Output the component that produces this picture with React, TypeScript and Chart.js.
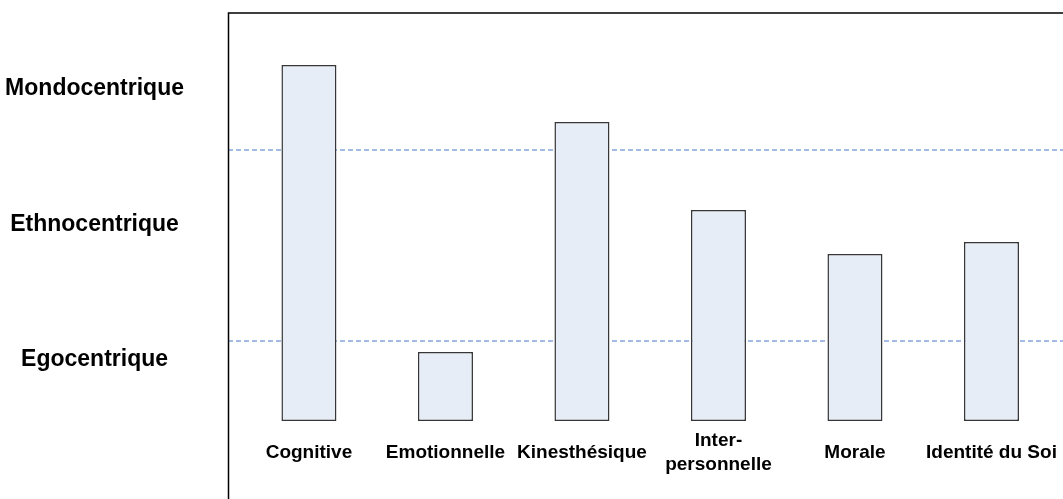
import React, { useEffect, useRef } from "react";
import { Chart, registerables } from "chart.js";

Chart.register(...registerables);

const categories: (string | string[])[] = [
  "Cognitive",
  "Emotionnelle",
  "Kinesthésique",
  ["Inter-", "personnelle"],
  "Morale",
  "Identité du Soi",
];
const scores: number[] = [35.6, 6.9, 29.9, 21.1, 16.7, 17.9];
const levelLabels: string[] = ["Mondocentrique", "Ethnocentrique", "Egocentrique"];
const levelPositions: number[] = [33.2, 19.6, 6.1];
const thresholds: number[] = [27.1, 8.0];
const yMax = 40.8;
const xMin = -0.593;
const xMax = 5.524;

const framePlugin = {
  id: "frame",
  beforeDatasetsDraw(chart: any) {
    const { ctx, chartArea, scales } = chart;
    ctx.save();
    ctx.strokeStyle = "#a3bbe5";
    ctx.lineWidth = 2;
    ctx.setLineDash([5, 3]);
    thresholds.forEach((t) => {
      const y = Math.round(scales.y.getPixelForValue(t));
      ctx.beginPath();
      ctx.moveTo(chartArea.left, y);
      ctx.lineTo(chartArea.right, y);
      ctx.stroke();
    });
    ctx.restore();
  },
  afterDraw(chart: any) {
    const { ctx, chartArea } = chart;
    ctx.save();
    ctx.strokeStyle = "#000";
    ctx.lineWidth = 1.5;
    ctx.beginPath();
    ctx.moveTo(chartArea.left + 0.5, chart.height);
    ctx.lineTo(chartArea.left + 0.5, chartArea.top);
    ctx.lineTo(chartArea.right, chartArea.top);
    ctx.stroke();
    ctx.restore();
  },
};

const zeroPadding = (scale: any) => {
  scale.paddingLeft = 0;
  scale.paddingRight = 0;
  scale.paddingTop = 0;
  scale.paddingBottom = 0;
};

export default function App() {
  const ref = useRef<HTMLCanvasElement | null>(null);
  useEffect(() => {
    if (!ref.current) return;
    const chart = new Chart(ref.current, {
      type: "bar",
      data: {
        datasets: [
          {
            data: scores.map((v, i) => ({ x: i, y: v })) as any,
            backgroundColor: "#e6edf7",
            borderColor: "#363636",
            borderWidth: 1.5,
            borderSkipped: false,
            barPercentage: 0.403,
            categoryPercentage: 1,
          },
        ],
      },
      options: {
        responsive: false,
        animation: false,
        layout: { padding: { top: 13, left: 0, right: 0, bottom: 0 } },
        plugins: { legend: { display: false }, tooltip: { enabled: false } },
        scales: {
          x: {
            type: "linear",
            offset: false,
            min: xMin,
            max: xMax,
            grid: { display: false, drawTicks: false, offset: false },
            border: { display: false },
            afterBuildTicks: (scale: any) => {
              scale.ticks = categories.map((_, i) => ({ value: i }));
            },
            afterFit: (scale: any) => {
              scale.height = 78;
              zeroPadding(scale);
            },
            ticks: {
              autoSkip: false,
              maxRotation: 0,
              minRotation: 0,
              crossAlign: "center",
              padding: 20,
              color: "#000",
              font: { family: "'Liberation Sans', Arial, sans-serif", size: 19, weight: "bold", lineHeight: 1.26 },
              callback: (_v: any, i: number) => categories[i],
            },
          },
          y: {
            type: "linear",
            min: 0,
            max: yMax,
            grid: { display: false, drawTicks: false },
            border: { display: false },
            afterBuildTicks: (scale: any) => {
              scale.ticks = levelPositions.map((v) => ({ value: v }));
            },
            afterFit: (scale: any) => {
              scale.width = 228;
              zeroPadding(scale);
            },
            ticks: {
              autoSkip: false,
              crossAlign: "center",
              padding: 44,
              color: "#000",
              font: { family: "'Liberation Sans', Arial, sans-serif", size: 23, weight: "bold" },
              callback: (_v: any, i: number) => levelLabels[i],
            },
          },
        },
      },
      plugins: [framePlugin],
    });
    return () => chart.destroy();
  }, []);
  return (
    <canvas
      ref={ref}
      width={1063}
      height={499}
      style={{ position: "fixed", left: 0, top: 0, width: 1063, height: 499 }}
    />
  );
}
